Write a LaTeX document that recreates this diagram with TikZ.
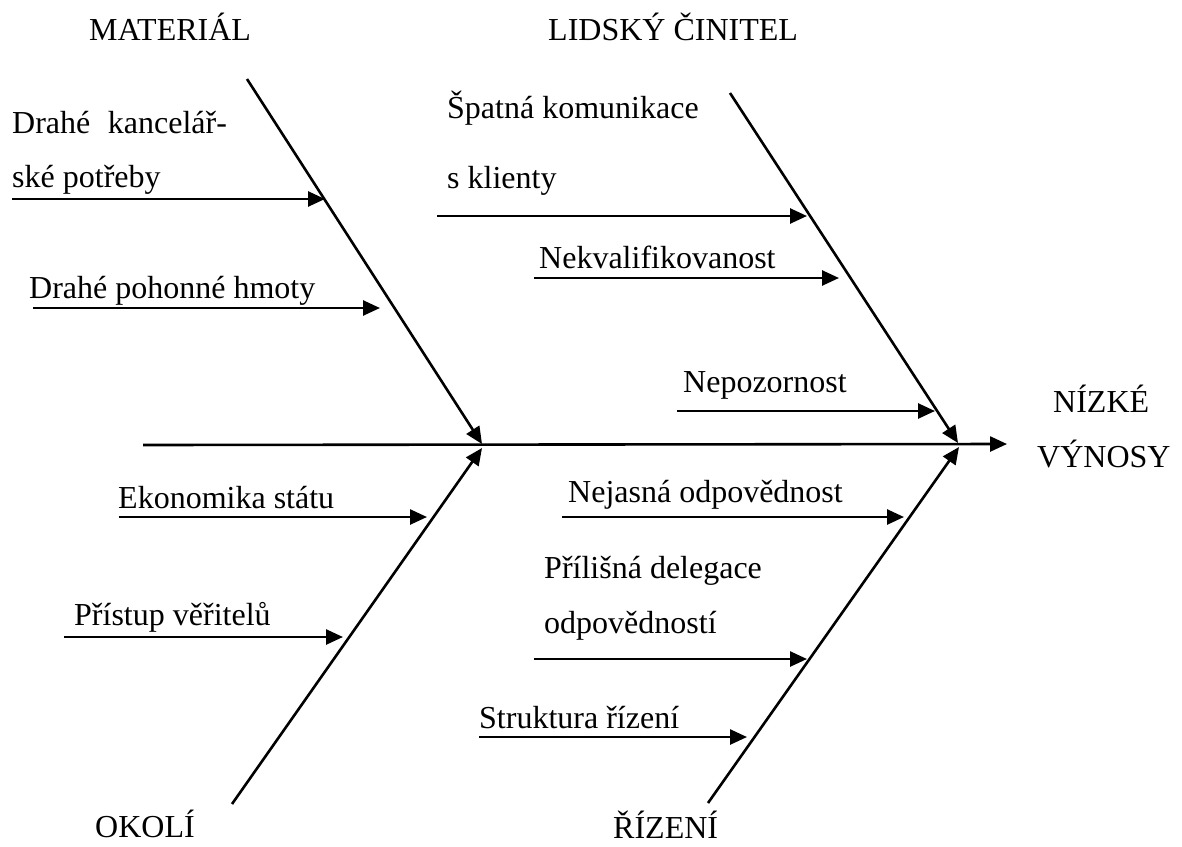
\documentclass[tikz,border=0pt]{standalone}
\usepackage{fontspec}
\setmainfont{Liberation Serif}
\usetikzlibrary{arrows.meta}
\begin{document}
\begin{tikzpicture}[x=1pt,y=-1pt,
  cause/.style={line width=2.6pt,-{Triangle[length=17pt,width=15pt]}},
  lbl/.style={anchor=base west,inner sep=0pt,font=\rmfamily\fontsize{32}{38}\selectfont},
  ttl/.style={anchor=base west,inner sep=0pt,font=\rmfamily\fontsize{32}{38}\selectfont}]
\useasboundingbox (0,0) rectangle (1182,846);
% spine
\coordinate (sp0) at (143,445);
\coordinate (jl) at (482,444);
\coordinate (jr) at (958,443);
\coordinate (head) at (1007,444);
\draw[cause] (sp0) -- (head);
% bones
\coordinate (mTop) at (247,79);
\coordinate (lTop) at (730,93);
\coordinate (oBot) at (232,804);
\coordinate (rBot) at (708,803);
\coordinate (jlb) at (482,448);
\coordinate (jrb) at (959,447);
\draw[cause] (mTop) -- (jl);
\draw[cause] (oBot) -- (jlb);
\draw[cause] (lTop) -- (jr);
\draw[cause] (rBot) -- (jrb);
% titles
\node[ttl] (tM) at (89,40) {MATERIÁL};
\node[ttl] (tL) at (548,40) {LIDSKÝ ČINITEL};
\node[ttl] (tO) at (95,837) {OKOLÍ};
\node[ttl] (tR) at (613,838) {ŘÍZENÍ};
\node[ttl] (tN) at (1053,412) {NÍZKÉ};
\node[ttl] (tV) at (1037,467) {VÝNOSY};
% material causes
\node[lbl] (c1a) at (12,133) {Drahé\hspace{0.55em}kancelář-};
\node[lbl] (c1b) at (12,187) {ské potřeby};
\coordinate (c1s) at (12,199); \coordinate (c1e) at (325,199);
\draw[cause] (c1s) -- (c1e);
\node[lbl] (c2) at (29,298) {Drahé pohonné hmoty};
\coordinate (c2s) at (33,308); \coordinate (c2e) at (380,308);
\draw[cause] (c2s) -- (c2e);
% lidsky cinitel causes
\node[lbl] (c3a) at (447,118) {Špatná komunikace};
\node[lbl] (c3b) at (447,188) {s klienty};
\coordinate (c3s) at (437,216); \coordinate (c3e) at (807,216);
\draw[cause] (c3s) -- (c3e);
\node[lbl] (c4) at (539,268) {Nekvalifikovanost};
\coordinate (c4s) at (534,278); \coordinate (c4e) at (839,278);
\draw[cause] (c4s) -- (c4e);
\node[lbl] (c5) at (683,392) {Nepozornost};
\coordinate (c5s) at (677,411); \coordinate (c5e) at (935,411);
\draw[cause] (c5s) -- (c5e);
% okoli causes
\node[lbl] (c6) at (118,508) {Ekonomika státu};
\coordinate (c6s) at (119,517); \coordinate (c6e) at (427,517);
\draw[cause] (c6s) -- (c6e);
\node[lbl] (c7) at (74,625) {Přístup věřitelů};
\coordinate (c7s) at (64,637); \coordinate (c7e) at (343,637);
\draw[cause] (c7s) -- (c7e);
% rizeni causes
\node[lbl] (c8) at (568,502) {Nejasná odpovědnost};
\coordinate (c8s) at (562,517); \coordinate (c8e) at (904,517);
\draw[cause] (c8s) -- (c8e);
\node[lbl] (c9a) at (544,578) {Přílišná delegace};
\node[lbl] (c9b) at (544,633) {odpovědností};
\coordinate (c9s) at (534,659); \coordinate (c9e) at (807,659);
\draw[cause] (c9s) -- (c9e);
\node[lbl] (c10) at (479,728) {Struktura řízení};
\coordinate (c10s) at (479,737); \coordinate (c10e) at (747,737);
\draw[cause] (c10s) -- (c10e);
\end{tikzpicture}
\end{document}
